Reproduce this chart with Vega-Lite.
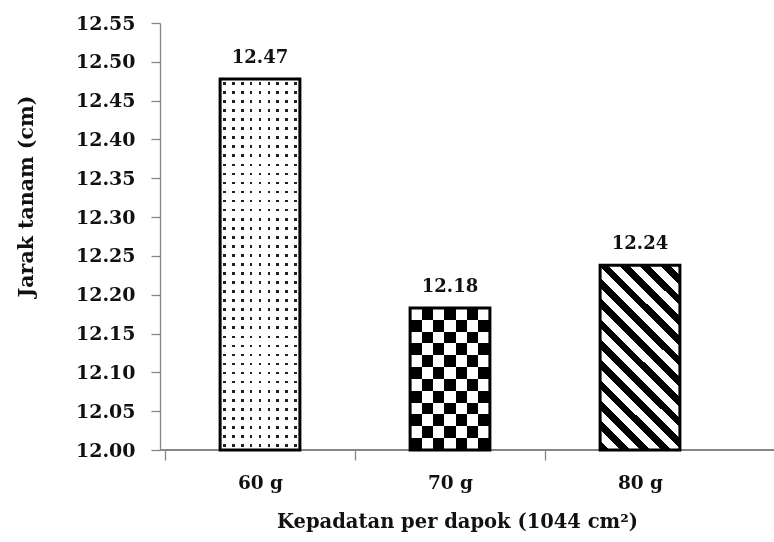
{
  "$schema": "https://vega.github.io/schema/vega-lite/v6.json",
  "width": 614,
  "height": 427,
  "autosize": {"type": "none"},
  "padding": {"left": 160, "top": 23, "right": 0, "bottom": 92},
  "background": "white",
  "config": {
    "view": {"stroke": null},
    "font": "DejaVu Serif",
    "axis": {"labelFont": "DejaVu Serif", "titleFont": "DejaVu Serif", "labelFontWeight": "bold", "titleFontWeight": "bold", "grid": false, "labelColor": "#111111", "titleColor": "#111111"}
  },
  "data": {"values": [
    {"k": "60 g", "v": 12.478, "label": "12.47"},
    {"k": "70 g", "v": 12.183, "label": "12.18"},
    {"k": "80 g", "v": 12.238, "label": "12.24"}
  ]},
  "encoding": {
    "y": {"field": "v", "type": "quantitative",
      "scale": {"domain": [12, 12.55], "zero": false, "nice": false},
      "axis": {"values": [12, 12.05, 12.1, 12.15, 12.2, 12.25, 12.3, 12.35, 12.4, 12.45, 12.5, 12.55], "format": ".2f",
        "title": "Jarak tanam (cm)", "labelFontSize": 19, "titleFontSize": 20.5, "tickSize": 9, "tickColor": "#868686", "domainColor": "#868686", "domainWidth": 1.3, "tickWidth": 1.3,
        "labelPadding": 16, "titleX": -134, "titleY": 173, "titleAngle": -90, "titleBaseline": "middle", "titleAlign": "center"}}
  },
  "layer": [
    {"mark": {"type": "rule", "color": "#868686", "strokeWidth": 1.3},
     "encoding": {"y": {"datum": 12, "type": "quantitative"}}},
    {"transform": [{"filter": "datum.k === '60 g'"}],
     "mark": {"type": "bar", "fill": {"gradient": "linear", "x1": 0, "y1": 0, "x2": 1, "y2": 0, "stops": [
       {"offset": 0, "color": "white"},
       {"offset": 0.0389, "color": "white"}, {"offset": 0.0389, "color": "#222"}, {"offset": 0.0722, "color": "#222"}, {"offset": 0.0722, "color": "white"},
       {"offset": 0.15, "color": "white"}, {"offset": 0.15, "color": "#222"}, {"offset": 0.1833, "color": "#222"}, {"offset": 0.1833, "color": "white"},
       {"offset": 0.2611, "color": "white"}, {"offset": 0.2611, "color": "#222"}, {"offset": 0.2944, "color": "#222"}, {"offset": 0.2944, "color": "white"},
       {"offset": 0.3722, "color": "white"}, {"offset": 0.3722, "color": "#222"}, {"offset": 0.4056, "color": "#222"}, {"offset": 0.4056, "color": "white"},
       {"offset": 0.4833, "color": "white"}, {"offset": 0.4833, "color": "#222"}, {"offset": 0.5167, "color": "#222"}, {"offset": 0.5167, "color": "white"},
       {"offset": 0.5944, "color": "white"}, {"offset": 0.5944, "color": "#222"}, {"offset": 0.6278, "color": "#222"}, {"offset": 0.6278, "color": "white"},
       {"offset": 0.7056, "color": "white"}, {"offset": 0.7056, "color": "#222"}, {"offset": 0.7389, "color": "#222"}, {"offset": 0.7389, "color": "white"},
       {"offset": 0.8167, "color": "white"}, {"offset": 0.8167, "color": "#222"}, {"offset": 0.85, "color": "#222"}, {"offset": 0.85, "color": "white"},
       {"offset": 0.9278, "color": "white"}, {"offset": 0.9278, "color": "#222"}, {"offset": 0.9611, "color": "#222"}, {"offset": 0.9611, "color": "white"},
       {"offset": 1, "color": "white"}]}},
     "encoding": {
       "x": {"field": "k", "type": "nominal", "sort": null, "scale": {"range": [5, 575], "paddingInner": 0.58, "paddingOuter": 0.29},
         "axis": {"title": "Kepadatan per dapok (1044 cm²)", "labelAngle": 0, "labelFontSize": 18.5, "titleFontSize": 19.5, "bandPosition": 0.5, "tickOffset": -95, "labelOffset": 95, "tickSize": 10, "tickColor": "#868686", "tickWidth": 1.3, "domain": false,
           "labelPadding": 28, "labelBaseline": "alphabetic", "titleX": 297, "titleY": 77, "titleBaseline": "alphabetic", "titleAlign": "center"}},
       "y2": {"datum": 12}}},
    {"transform": [{"filter": "datum.k === '60 g'"}],
     "mark": {"type": "bar", "blend": "lighten", "fill": {"gradient": "linear", "x1": 0, "y1": 0, "x2": 0, "y2": 1, "stops": [
       {"offset": 0, "color": "white"},
       {"offset": 0.0085, "color": "white"}, {"offset": 0.0085, "color": "#222"}, {"offset": 0.0159, "color": "#222"}, {"offset": 0.0159, "color": "white"},
       {"offset": 0.0329, "color": "white"}, {"offset": 0.0329, "color": "#222"}, {"offset": 0.0403, "color": "#222"}, {"offset": 0.0403, "color": "white"},
       {"offset": 0.0573, "color": "white"}, {"offset": 0.0573, "color": "#222"}, {"offset": 0.0647, "color": "#222"}, {"offset": 0.0647, "color": "white"},
       {"offset": 0.0817, "color": "white"}, {"offset": 0.0817, "color": "#222"}, {"offset": 0.089, "color": "#222"}, {"offset": 0.089, "color": "white"},
       {"offset": 0.1061, "color": "white"}, {"offset": 0.1061, "color": "#222"}, {"offset": 0.1134, "color": "#222"}, {"offset": 0.1134, "color": "white"},
       {"offset": 0.1305, "color": "white"}, {"offset": 0.1305, "color": "#222"}, {"offset": 0.1378, "color": "#222"}, {"offset": 0.1378, "color": "white"},
       {"offset": 0.1549, "color": "white"}, {"offset": 0.1549, "color": "#222"}, {"offset": 0.1622, "color": "#222"}, {"offset": 0.1622, "color": "white"},
       {"offset": 0.1793, "color": "white"}, {"offset": 0.1793, "color": "#222"}, {"offset": 0.1866, "color": "#222"}, {"offset": 0.1866, "color": "white"},
       {"offset": 0.2037, "color": "white"}, {"offset": 0.2037, "color": "#222"}, {"offset": 0.211, "color": "#222"}, {"offset": 0.211, "color": "white"},
       {"offset": 0.2281, "color": "white"}, {"offset": 0.2281, "color": "#222"}, {"offset": 0.2354, "color": "#222"}, {"offset": 0.2354, "color": "white"},
       {"offset": 0.2524, "color": "white"}, {"offset": 0.2524, "color": "#222"}, {"offset": 0.2598, "color": "#222"}, {"offset": 0.2598, "color": "white"},
       {"offset": 0.2768, "color": "white"}, {"offset": 0.2768, "color": "#222"}, {"offset": 0.2842, "color": "#222"}, {"offset": 0.2842, "color": "white"},
       {"offset": 0.3012, "color": "white"}, {"offset": 0.3012, "color": "#222"}, {"offset": 0.3085, "color": "#222"}, {"offset": 0.3085, "color": "white"},
       {"offset": 0.3256, "color": "white"}, {"offset": 0.3256, "color": "#222"}, {"offset": 0.3329, "color": "#222"}, {"offset": 0.3329, "color": "white"},
       {"offset": 0.35, "color": "white"}, {"offset": 0.35, "color": "#222"}, {"offset": 0.3573, "color": "#222"}, {"offset": 0.3573, "color": "white"},
       {"offset": 0.3744, "color": "white"}, {"offset": 0.3744, "color": "#222"}, {"offset": 0.3817, "color": "#222"}, {"offset": 0.3817, "color": "white"},
       {"offset": 0.3988, "color": "white"}, {"offset": 0.3988, "color": "#222"}, {"offset": 0.4061, "color": "#222"}, {"offset": 0.4061, "color": "white"},
       {"offset": 0.4232, "color": "white"}, {"offset": 0.4232, "color": "#222"}, {"offset": 0.4305, "color": "#222"}, {"offset": 0.4305, "color": "white"},
       {"offset": 0.4476, "color": "white"}, {"offset": 0.4476, "color": "#222"}, {"offset": 0.4549, "color": "#222"}, {"offset": 0.4549, "color": "white"},
       {"offset": 0.472, "color": "white"}, {"offset": 0.472, "color": "#222"}, {"offset": 0.4793, "color": "#222"}, {"offset": 0.4793, "color": "white"},
       {"offset": 0.4963, "color": "white"}, {"offset": 0.4963, "color": "#222"}, {"offset": 0.5037, "color": "#222"}, {"offset": 0.5037, "color": "white"},
       {"offset": 0.5207, "color": "white"}, {"offset": 0.5207, "color": "#222"}, {"offset": 0.528, "color": "#222"}, {"offset": 0.528, "color": "white"},
       {"offset": 0.5451, "color": "white"}, {"offset": 0.5451, "color": "#222"}, {"offset": 0.5524, "color": "#222"}, {"offset": 0.5524, "color": "white"},
       {"offset": 0.5695, "color": "white"}, {"offset": 0.5695, "color": "#222"}, {"offset": 0.5768, "color": "#222"}, {"offset": 0.5768, "color": "white"},
       {"offset": 0.5939, "color": "white"}, {"offset": 0.5939, "color": "#222"}, {"offset": 0.6012, "color": "#222"}, {"offset": 0.6012, "color": "white"},
       {"offset": 0.6183, "color": "white"}, {"offset": 0.6183, "color": "#222"}, {"offset": 0.6256, "color": "#222"}, {"offset": 0.6256, "color": "white"},
       {"offset": 0.6427, "color": "white"}, {"offset": 0.6427, "color": "#222"}, {"offset": 0.65, "color": "#222"}, {"offset": 0.65, "color": "white"},
       {"offset": 0.6671, "color": "white"}, {"offset": 0.6671, "color": "#222"}, {"offset": 0.6744, "color": "#222"}, {"offset": 0.6744, "color": "white"},
       {"offset": 0.6915, "color": "white"}, {"offset": 0.6915, "color": "#222"}, {"offset": 0.6988, "color": "#222"}, {"offset": 0.6988, "color": "white"},
       {"offset": 0.7159, "color": "white"}, {"offset": 0.7159, "color": "#222"}, {"offset": 0.7232, "color": "#222"}, {"offset": 0.7232, "color": "white"},
       {"offset": 0.7402, "color": "white"}, {"offset": 0.7402, "color": "#222"}, {"offset": 0.7476, "color": "#222"}, {"offset": 0.7476, "color": "white"},
       {"offset": 0.7646, "color": "white"}, {"offset": 0.7646, "color": "#222"}, {"offset": 0.772, "color": "#222"}, {"offset": 0.772, "color": "white"},
       {"offset": 0.789, "color": "white"}, {"offset": 0.789, "color": "#222"}, {"offset": 0.7963, "color": "#222"}, {"offset": 0.7963, "color": "white"},
       {"offset": 0.8134, "color": "white"}, {"offset": 0.8134, "color": "#222"}, {"offset": 0.8207, "color": "#222"}, {"offset": 0.8207, "color": "white"},
       {"offset": 0.8378, "color": "white"}, {"offset": 0.8378, "color": "#222"}, {"offset": 0.8451, "color": "#222"}, {"offset": 0.8451, "color": "white"},
       {"offset": 0.8622, "color": "white"}, {"offset": 0.8622, "color": "#222"}, {"offset": 0.8695, "color": "#222"}, {"offset": 0.8695, "color": "white"},
       {"offset": 0.8866, "color": "white"}, {"offset": 0.8866, "color": "#222"}, {"offset": 0.8939, "color": "#222"}, {"offset": 0.8939, "color": "white"},
       {"offset": 0.911, "color": "white"}, {"offset": 0.911, "color": "#222"}, {"offset": 0.9183, "color": "#222"}, {"offset": 0.9183, "color": "white"},
       {"offset": 0.9354, "color": "white"}, {"offset": 0.9354, "color": "#222"}, {"offset": 0.9427, "color": "#222"}, {"offset": 0.9427, "color": "white"},
       {"offset": 0.9598, "color": "white"}, {"offset": 0.9598, "color": "#222"}, {"offset": 0.9671, "color": "#222"}, {"offset": 0.9671, "color": "white"},
       {"offset": 0.9841, "color": "white"}, {"offset": 0.9841, "color": "#222"}, {"offset": 0.9915, "color": "#222"}, {"offset": 0.9915, "color": "white"},
       {"offset": 1, "color": "white"}]}},
     "encoding": {
       "x": {"field": "k", "type": "nominal", "sort": null, "scale": {"range": [5, 575], "paddingInner": 0.58, "paddingOuter": 0.29}},
       "y2": {"datum": 12}}},
    {"transform": [{"filter": "datum.k === '70 g'"}],
     "mark": {"type": "bar", "fill": {"gradient": "linear", "x1": 0, "y1": 0, "x2": 1, "y2": 0, "stops": [
       {"offset": 0, "color": "#ffffff"}, {"offset": 0.1429, "color": "#ffffff"}, {"offset": 0.1429, "color": "#000000"}, {"offset": 0.2857, "color": "#000000"},
       {"offset": 0.2857, "color": "#ffffff"}, {"offset": 0.4286, "color": "#ffffff"}, {"offset": 0.4286, "color": "#000000"}, {"offset": 0.5714, "color": "#000000"},
       {"offset": 0.5714, "color": "#ffffff"}, {"offset": 0.7143, "color": "#ffffff"}, {"offset": 0.7143, "color": "#000000"}, {"offset": 0.8571, "color": "#000000"},
       {"offset": 0.8571, "color": "#ffffff"}, {"offset": 1, "color": "#ffffff"}]}},
     "encoding": {
       "x": {"field": "k", "type": "nominal", "sort": null, "scale": {"range": [5, 575], "paddingInner": 0.58, "paddingOuter": 0.29}},
       "y2": {"datum": 12}}},
    {"transform": [{"filter": "datum.k === '70 g'"}],
     "mark": {"type": "bar", "blend": "difference", "fill": {"gradient": "linear", "x1": 0, "y1": 0, "x2": 0, "y2": 1, "stops": [
       {"offset": 0, "color": "#000000"}, {"offset": 0.0833, "color": "#000000"}, {"offset": 0.0833, "color": "#ffffff"}, {"offset": 0.1667, "color": "#ffffff"},
       {"offset": 0.1667, "color": "#000000"}, {"offset": 0.25, "color": "#000000"}, {"offset": 0.25, "color": "#ffffff"}, {"offset": 0.3333, "color": "#ffffff"},
       {"offset": 0.3333, "color": "#000000"}, {"offset": 0.4167, "color": "#000000"}, {"offset": 0.4167, "color": "#ffffff"}, {"offset": 0.5, "color": "#ffffff"},
       {"offset": 0.5, "color": "#000000"}, {"offset": 0.5833, "color": "#000000"}, {"offset": 0.5833, "color": "#ffffff"}, {"offset": 0.6667, "color": "#ffffff"},
       {"offset": 0.6667, "color": "#000000"}, {"offset": 0.75, "color": "#000000"}, {"offset": 0.75, "color": "#ffffff"}, {"offset": 0.8333, "color": "#ffffff"},
       {"offset": 0.8333, "color": "#000000"}, {"offset": 0.9167, "color": "#000000"}, {"offset": 0.9167, "color": "#ffffff"}, {"offset": 1, "color": "#ffffff"}]}},
     "encoding": {
       "x": {"field": "k", "type": "nominal", "sort": null, "scale": {"range": [5, 575], "paddingInner": 0.58, "paddingOuter": 0.29}},
       "y2": {"datum": 12}}},
    {"transform": [{"filter": "datum.k === '80 g'"}],
     "mark": {"type": "bar", "fill": {"gradient": "linear", "x1": 0, "y1": 1, "x2": 0.519, "y2": -0.207, "stops": [
       {"offset": 0, "color": "black"}, {"offset": 0.0369, "color": "black"}, {"offset": 0.0369, "color": "white"}, {"offset": 0.0769, "color": "white"},
       {"offset": 0.0769, "color": "black"}, {"offset": 0.1138, "color": "black"}, {"offset": 0.1138, "color": "white"}, {"offset": 0.1538, "color": "white"},
       {"offset": 0.1538, "color": "black"}, {"offset": 0.1907, "color": "black"}, {"offset": 0.1907, "color": "white"}, {"offset": 0.2308, "color": "white"},
       {"offset": 0.2308, "color": "black"}, {"offset": 0.2677, "color": "black"}, {"offset": 0.2677, "color": "white"}, {"offset": 0.3077, "color": "white"},
       {"offset": 0.3077, "color": "black"}, {"offset": 0.3446, "color": "black"}, {"offset": 0.3446, "color": "white"}, {"offset": 0.3846, "color": "white"},
       {"offset": 0.3846, "color": "black"}, {"offset": 0.4215, "color": "black"}, {"offset": 0.4215, "color": "white"}, {"offset": 0.4615, "color": "white"},
       {"offset": 0.4615, "color": "black"}, {"offset": 0.4984, "color": "black"}, {"offset": 0.4984, "color": "white"}, {"offset": 0.5385, "color": "white"},
       {"offset": 0.5385, "color": "black"}, {"offset": 0.5754, "color": "black"}, {"offset": 0.5754, "color": "white"}, {"offset": 0.6154, "color": "white"},
       {"offset": 0.6154, "color": "black"}, {"offset": 0.6523, "color": "black"}, {"offset": 0.6523, "color": "white"}, {"offset": 0.6923, "color": "white"},
       {"offset": 0.6923, "color": "black"}, {"offset": 0.7292, "color": "black"}, {"offset": 0.7292, "color": "white"}, {"offset": 0.7692, "color": "white"},
       {"offset": 0.7692, "color": "black"}, {"offset": 0.8061, "color": "black"}, {"offset": 0.8061, "color": "white"}, {"offset": 0.8462, "color": "white"},
       {"offset": 0.8462, "color": "black"}, {"offset": 0.8831, "color": "black"}, {"offset": 0.8831, "color": "white"}, {"offset": 0.9231, "color": "white"},
       {"offset": 0.9231, "color": "black"}, {"offset": 0.96, "color": "black"}, {"offset": 0.96, "color": "white"}, {"offset": 1, "color": "white"}]}},
     "encoding": {
       "x": {"field": "k", "type": "nominal", "sort": null, "scale": {"range": [5, 575], "paddingInner": 0.58, "paddingOuter": 0.29}},
       "y2": {"datum": 12}}},
    {"mark": {"type": "bar", "fill": "white", "fillOpacity": 0, "stroke": "black", "strokeWidth": 3},
     "encoding": {
       "x": {"field": "k", "type": "nominal", "sort": null, "scale": {"range": [5, 575], "paddingInner": 0.58, "paddingOuter": 0.29}},
       "y2": {"datum": 12}}},
    {"mark": {"type": "text", "font": "DejaVu Serif", "fontWeight": "bold", "fontSize": 18, "baseline": "alphabetic", "dy": -16, "color": "#111111"},
     "encoding": {
       "x": {"field": "k", "type": "nominal", "sort": null, "scale": {"range": [5, 575], "paddingInner": 0.58, "paddingOuter": 0.29}},
       "text": {"field": "label"}}}
  ]
}
